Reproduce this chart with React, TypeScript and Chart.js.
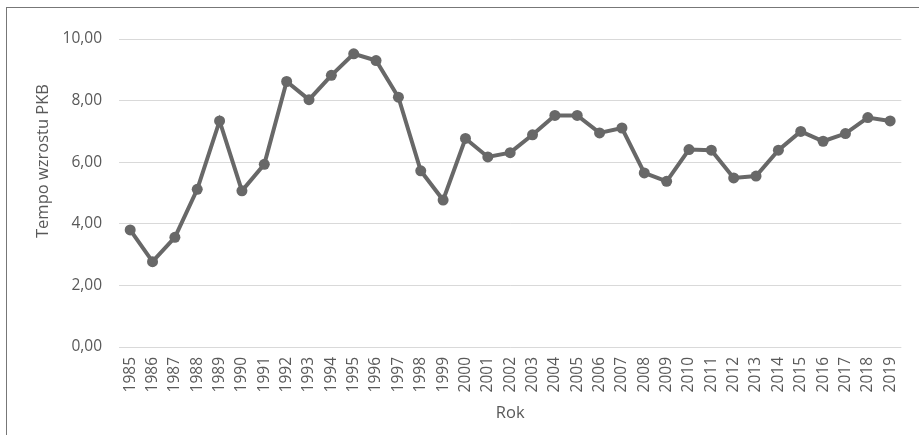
import React, { useEffect, useRef } from "react";
import { Chart, registerables } from "chart.js";

Chart.register(...registerables);

const years: string[] = [
  "1985", "1986", "1987", "1988", "1989", "1990", "1991", "1992", "1993", "1994",
  "1995", "1996", "1997", "1998", "1999", "2000", "2001", "2002", "2003", "2004",
  "2005", "2006", "2007", "2008", "2009", "2010", "2011", "2012", "2013", "2014",
  "2015", "2016", "2017", "2018", "2019",
];

const gdpGrowth: number[] = [
  3.8, 2.77, 3.56, 5.12, 7.34, 5.07, 5.93, 8.62, 8.03, 8.82,
  9.52, 9.3, 8.11, 5.72, 4.77, 6.77, 6.17, 6.31, 6.89, 7.52,
  7.52, 6.95, 7.11, 5.65, 5.38, 6.41, 6.39, 5.49, 5.55, 6.39,
  7.0, 6.68, 6.93, 7.45, 7.34,
];

const yTitle = "Tempo wzrostu PKB";
const xTitle = "Rok";

const FONT = "'Open Sans', 'Noto Sans', sans-serif";
const TEXT = "#595959";
const LINE = "#686868";

const yTitlePlugin = {
  id: "yTitlePlugin",
  afterDraw(chart: any) {
    const ctx = chart.ctx;
    ctx.save();
    ctx.translate(43, 161);
    ctx.rotate(-Math.PI / 2);
    ctx.fillStyle = TEXT;
    ctx.font = `16.5px ${FONT}`;
    ctx.textAlign = "center";
    ctx.textBaseline = "middle";
    ctx.fillText(yTitle, 0, 0);
    ctx.restore();
  },
};

export default function App() {
  const ref = useRef<HTMLCanvasElement | null>(null);

  useEffect(() => {
    document.body.style.margin = "0";
    const canvas = ref.current;
    if (!canvas) return;
    const chart = new Chart(canvas, {
      type: "line",
      data: {
        labels: years,
        datasets: [
          {
            data: gdpGrowth,
            borderColor: LINE,
            backgroundColor: LINE,
            borderWidth: 4,
            pointRadius: 5.5,
            pointBackgroundColor: LINE,
            pointBorderColor: LINE,
            pointBorderWidth: 0,
            tension: 0,
          },
        ],
      },
      plugins: [yTitlePlugin],
      options: {
        responsive: false,
        animation: false,
        layout: { padding: { top: 39, right: 17, bottom: 0, left: 0 } },
        plugins: {
          legend: { display: false },
          tooltip: { enabled: false },
        },
        scales: {
          x: {
            offset: true,
            grid: { display: false, drawTicks: false },
            border: { display: false },
            ticks: {
              autoSkip: false,
              maxRotation: 90,
              minRotation: 90,
              padding: 10,
              color: TEXT,
              font: { family: FONT, size: 15.5 },
            },
            title: {
              display: true,
              text: xTitle,
              color: TEXT,
              font: { family: FONT, size: 16.5 },
              padding: { top: 4, bottom: 12 },
            },
            afterFit: (scale: any) => {
              scale.height = 88;
            },
          },
          y: {
            min: 0,
            max: 10,
            grid: { color: "#d9d9d9", lineWidth: 1, drawTicks: false },
            border: { display: false },
            ticks: {
              stepSize: 2,
              padding: 17,
              color: TEXT,
              font: { family: FONT, size: 15.5 },
              callback: (v: any) => Number(v).toFixed(2).replace(".", ","),
            },
            title: { display: false },
            afterFit: (scale: any) => {
              scale.width = 119;
            },
          },
        },
      },
    });
    return () => chart.destroy();
  }, []);

  return (
    <div style={{ position: "relative", width: 919, height: 435, background: "#fff", overflow: "hidden" }}>
      <canvas ref={ref} width={919} height={435} style={{ display: "block" }} />
      <div
        style={{
          position: "absolute",
          left: 6,
          top: 7,
          width: 920,
          height: 440,
          borderLeft: "1px solid #777",
          borderTop: "1px solid #777",
          pointerEvents: "none",
        }}
      />
    </div>
  );
}
